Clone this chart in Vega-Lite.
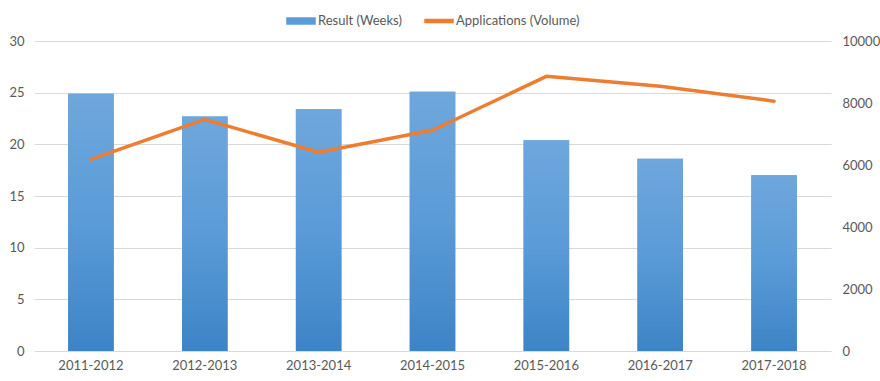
{
  "$schema": "https://vega.github.io/schema/vega-lite/v6.json",
  "width": 880,
  "height": 381,
  "autosize": {"type": "fit", "contains": "padding"},
  "padding": {"left": 8, "right": 0, "top": 6, "bottom": 9},
  "background": "white",
  "config": {
    "font": "Lato",
    "view": {"stroke": null},
    "axis": {"labelFont": "Lato", "labelFontSize": 13, "labelColor": "#595959"},
    "legend": {"labelFont": "Lato", "labelFontSize": 13, "labelColor": "#595959", "layout": {"top": {"anchor": "middle"}}}
  },
  "data": {
    "values": [
      {"period": "2011-2012", "result": 24.9, "applications": 6180},
      {"period": "2012-2013", "result": 22.7, "applications": 7470},
      {"period": "2013-2014", "result": 23.4, "applications": 6410},
      {"period": "2014-2015", "result": 25.1, "applications": 7120},
      {"period": "2015-2016", "result": 20.4, "applications": 8860},
      {"period": "2016-2017", "result": 18.6, "applications": 8540},
      {"period": "2017-2018", "result": 17.0, "applications": 8060}
    ]
  },
  "encoding": {
    "x": {
      "field": "period",
      "type": "nominal",
      "sort": null,
      "scale": {"paddingInner": 0.6, "paddingOuter": 0.3},
      "axis": {"title": null, "labelAngle": 0, "ticks": false, "domain": false, "labelPadding": 8}
    }
  },
  "layer": [
    {
      "mark": {"type": "bar"},
      "encoding": {
        "y": {
          "field": "result",
          "type": "quantitative",
          "scale": {"domain": [0, 30], "nice": false},
          "axis": {"title": null, "values": [0, 5, 10, 15, 20, 25, 30], "grid": true, "gridColor": "#d9d9d9", "domain": false, "ticks": false, "labelPadding": 10}
        },
        "color": {
          "datum": "Result (Weeks)",
          "type": "nominal",
          "scale": {"domain": ["Result (Weeks)", "Applications (Volume)"], "range": ["#5b9bd5", "#ed7d31"]},
          "legend": {
            "title": null,
            "orient": "top",
            "direction": "horizontal",
            "symbolSize": 784,
            "columnPadding": 20,
            "labelOffset": 2,
            "offset": 13,
            "encode": {
              "symbols": {
                "update": {
                  "shape": {"signal": "datum.value === 'Result (Weeks)' ? 'M-1,-0.21H1V0.21H-1Z' : 'M-1,-0.1H1V0.1H-1Z'"},
                  "fill": {"signal": "datum.value === 'Result (Weeks)' ? '#5b9bd5' : '#ed7d31'"},
                  "stroke": {"value": "transparent"},
                  "opacity": {"value": 1}
                }
              }
            }
          }
        }
      }
    },
    {
      "mark": {
        "type": "bar",
        "color": {
          "gradient": "linear", "x1": 0, "y1": 0, "x2": 0, "y2": 1,
          "stops": [{"offset": 0, "color": "#6fa7dc"}, {"offset": 0.5, "color": "#5a9bd8"}, {"offset": 1, "color": "#3d84c6"}]
        }
      },
      "encoding": {
        "y": {"field": "result", "type": "quantitative", "scale": {"domain": [0, 30], "nice": false}, "axis": null}
      }
    },
    {
      "mark": {"type": "line", "strokeWidth": 3.5, "strokeCap": "round", "strokeJoin": "round"},
      "encoding": {
        "y": {
          "field": "applications",
          "type": "quantitative",
          "scale": {"domain": [0, 10000], "nice": false},
          "axis": {"title": null, "orient": "right", "format": "d", "values": [0, 2000, 4000, 6000, 8000, 10000], "grid": false, "domain": false, "ticks": false, "labelPadding": 11}
        },
        "color": {"datum": "Applications (Volume)", "type": "nominal"}
      }
    }
  ],
  "resolve": {"scale": {"y": "independent"}}
}
